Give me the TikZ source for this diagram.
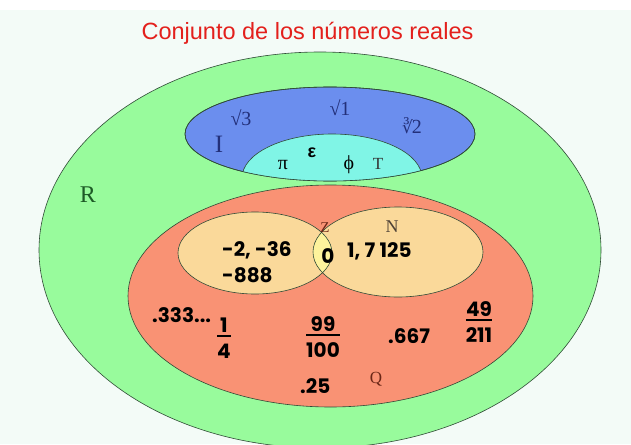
\documentclass[tikz,border=0pt]{standalone}
\usepackage{fontspec}
\setmainfont{Liberation Serif}
\newfontfamily\titlefont{Liberation Sans}
\newfontfamily\numfont{Poppins}
\newfontfamily\rootfont{DejaVu Serif}
\usetikzlibrary{positioning}
\definecolor{bgmint}{HTML}{F3FBF7}
\definecolor{realfill}{HTML}{98FB9C}
\definecolor{irrfill}{HTML}{6B8EEE}
\definecolor{transfill}{HTML}{80F5E6}
\definecolor{ratfill}{HTML}{F99274}
\definecolor{intfill}{HTML}{FAD99A}
\definecolor{zerofill}{HTML}{FDF39C}
\definecolor{edge}{HTML}{2F4A36}
\definecolor{titlered}{HTML}{E3201C}
\definecolor{inkR}{HTML}{1D5A26}
\definecolor{inkI}{HTML}{23307A}
\definecolor{inkQ}{HTML}{6A2616}
\definecolor{inkN}{HTML}{4E4236}
\newcommand{\frc}[2]{\vbox{\halign{\hfil##\hfil\cr #1\cr
  \noalign{\kern2.5pt\hrule height 1.6pt\kern7pt}#2\cr}}}
\tikzset{
  setline/.style = {draw=edge, line width=0.6pt},
  setname/.style = {font=\fontsize{24}{28}\selectfont, inner sep=0pt, anchor=base},
  elem/.style    = {font=\fontsize{20}{24}\selectfont, inner sep=0pt, anchor=base},
  num/.style     = {font=\numfont\bfseries\fontsize{20}{24}\selectfont, inner sep=0pt, anchor=base},
  fracnum/.style = {font=\numfont\bfseries\fontsize{20}{24}\selectfont, inner sep=0pt},
}

\begin{document}
\begin{tikzpicture}[x=1pt, y=-1pt]

  \useasboundingbox (0,0) rectangle (631,444);
  \fill[bgmint] (0,0) rectangle (631,444);
  \fill[white] (0,0) rectangle (631,10);

  % sets
  \filldraw[setline, fill=realfill] (320,250) ellipse [x radius=281, y radius=198];
  \filldraw[setline, fill=irrfill] (330,134) ellipse [x radius=145, y radius=47];
  \begin{scope}
    \clip (330,134) ellipse [x radius=145, y radius=47];
    \filldraw[setline, fill=transfill] (332,178) ellipse [x radius=90, y radius=44];
  \end{scope}
  \draw[setline] (330,134) ellipse [x radius=145, y radius=47];
  \filldraw[setline, fill=ratfill] (330.5,296) ellipse [x radius=202.5, y radius=111];
  \fill[intfill] (255,253) ellipse [x radius=77, y radius=41];
  \fill[intfill] (398,252) ellipse [x radius=85, y radius=45];
  \begin{scope}
    \clip (255,253) ellipse [x radius=77, y radius=41];
    \fill[zerofill] (398,252) ellipse [x radius=85, y radius=45];
  \end{scope}
  \draw[setline] (255,253) ellipse [x radius=77, y radius=41];
  \draw[setline] (398,252) ellipse [x radius=85, y radius=45];

  \node[inner sep=0pt, anchor=base, text=titlered,
        font=\titlefont\fontsize{23.5}{27}\selectfont] (title) at (307.5,40)
       {Conjunto de los números reales};

  % set names
  \node[setname, text=inkR] (lblR) at (88,202) {R};
  \node[setname, text=inkI, font=\fontsize{25}{28}\selectfont] (lblI) at (219,152) {I};
  \node[setname, text=black!80, font=\fontsize{17}{20}\selectfont] (lblT) at (378,169) {T};
  \node[setname, text=inkQ, font=\fontsize{17}{20}\selectfont] (lblQ) at (376,383) {Q};
  \node[setname, text=inkQ, font=\fontsize{15}{18}\selectfont] (lblZ) at (325,232) {Z};
  \node[setname, text=inkN, font=\fontsize{18}{20}\selectfont] (lblN) at (392,232) {N};

  % irrationals
  \node[elem, text=inkI] (rootA) at (241,125) {√3};
  \node[elem, text=inkI] (rootB) at (340,115) {√1};
  \node[elem, text=inkI] (rootC) at (412,133)
       {{\rootfont\fontsize{17}{20}\selectfont ∛}\kern-1pt 2};
  \node[elem] (piel) at (283,169) {π};
  \node[num, font=\titlefont\bfseries\fontsize{18}{20}\selectfont] (eel) at (312,157) {ε};
  \node[elem] (phiel) at (349,169) {ϕ};

  % integers and naturals
  \node[num, anchor=base west] (negA) at (222,256) {-2, -36};
  \node[num, anchor=base west] (negB) at (222,282) {-888};
  \node[num] (zero) at (328,263) {0};
  \node[num, anchor=base west] (natA) at (347,257) {1, 7 125};

  % rationals
  \node[num, anchor=base west] (decA) at (152,322) {.333...};
  \node[fracnum] (frA) at (224,338) {\frc{1}{4}};
  \node[fracnum] (frB) at (323,337) {\frc{99}{100}};
  \node[num, anchor=base west] (decB) at (388,343) {.667};
  \node[fracnum] (frC) at (479,322) {\frc{49}{211}};
  \node[num, anchor=base west] (decC) at (300,393) {.25};

\end{tikzpicture}
\end{document}
